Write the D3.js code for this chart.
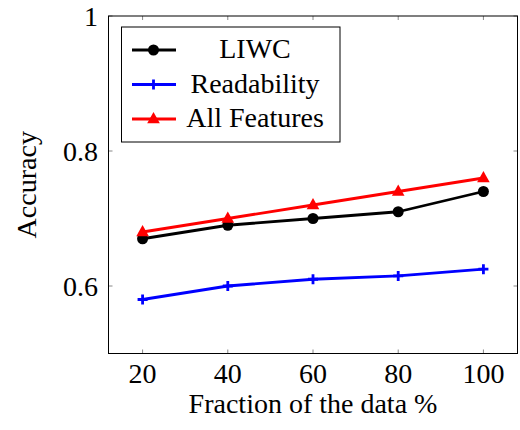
<!DOCTYPE html>
<html lang="en">
<head>
  <meta charset="UTF-8">
  <script src="https://d3js.org/d3.v7.min.js"></script>
  <style>
    body { margin: 0; background: #fff; }
  </style>
</head>
<body>
  <script>
    const W = 520, H = 430;

    // data
    var fractions = [20, 40, 60, 80, 100];
    var liwc = [0.67, 0.69, 0.70, 0.71, 0.74];
    var readability = [0.58, 0.60, 0.61, 0.615, 0.625];
    var allFeatures = [0.68, 0.70, 0.72, 0.74, 0.76];
    var xTicks = [20, 40, 60, 80, 100];
    var yTicks = [0.6, 0.8, 1];

    var series = [
      { name: "LIWC", values: liwc, color: "#000", marker: "circle" },
      { name: "Readability", values: readability, color: "#0000ff", marker: "plus" },
      { name: "All Features", values: allFeatures, color: "#ff0000", marker: "triangle" }
    ];

    const pLeft = 108.5, pRight = 517.5, pTop = 16, pBottom = 353.5;
    const fs = 28;

    var x = d3.scaleLinear().domain([12, 108]).range([pLeft, pRight]);
    var y = d3.scaleLinear().domain([0.5, 1]).range([pBottom, pTop]);

    var svg = d3.select("body").append("svg")
      .attr("width", W)
      .attr("height", H)
      .attr("font-family", "'Liberation Serif', 'Times New Roman', Times, 'DejaVu Serif', serif");

    // ticks (inside, on all four sides)
    var tickLen = 4;
    var gt = svg.append("g").attr("stroke", "#888").attr("stroke-width", 1);
    xTicks.forEach(function (t) {
      gt.append("line").attr("x1", x(t)).attr("x2", x(t)).attr("y1", pBottom).attr("y2", pBottom - tickLen);
      gt.append("line").attr("x1", x(t)).attr("x2", x(t)).attr("y1", pTop).attr("y2", pTop + tickLen);
    });
    yTicks.forEach(function (t) {
      gt.append("line").attr("y1", y(t)).attr("y2", y(t)).attr("x1", pLeft).attr("x2", pLeft + tickLen);
      gt.append("line").attr("y1", y(t)).attr("y2", y(t)).attr("x1", pRight).attr("x2", pRight - tickLen);
    });

    // frame
    svg.append("rect")
      .attr("x", pLeft).attr("y", pTop)
      .attr("width", pRight - pLeft).attr("height", pBottom - pTop)
      .attr("fill", "none").attr("stroke", "#000").attr("stroke-width", 1);

    // tick labels
    svg.selectAll(".xl").data(xTicks).enter().append("text")
      .attr("x", function (d) { return x(d); })
      .attr("y", 383)
      .attr("text-anchor", "middle")
      .attr("font-size", fs)
      .text(function (d) { return d; });

    svg.selectAll(".yl").data(yTicks).enter().append("text")
      .attr("x", 98)
      .attr("y", function (d) { return y(d) + 10; })
      .attr("text-anchor", "end")
      .attr("font-size", fs)
      .text(function (d) { return d; });

    // axis titles
    svg.append("text")
      .attr("x", (pLeft + pRight) / 2).attr("y", 413)
      .attr("text-anchor", "middle")
      .attr("font-size", fs)
      .text("Fraction of the data %");

    svg.append("text")
      .attr("transform", "translate(36," + ((pTop + pBottom) / 2) + ") rotate(-90)")
      .attr("text-anchor", "middle")
      .attr("font-size", fs)
      .text("Accuracy");

    function drawMarker(g, type, cx, cy, color) {
      if (type == "circle") {
        g.append("circle").attr("cx", cx).attr("cy", cy).attr("r", 5.5).attr("fill", color);
      } else if (type == "plus") {
        g.append("path")
          .attr("d", "M" + (cx - 5) + "," + cy + "H" + (cx + 5) + "M" + cx + "," + (cy - 5) + "V" + (cy + 5))
          .attr("stroke", color).attr("stroke-width", 2.8).attr("fill", "none");
      } else {
        var s = 7;
        g.append("path")
          .attr("d", "M" + cx + "," + (cy - s) + "L" + (cx + s * 0.9) + "," + (cy + s * 0.6) + "L" + (cx - s * 0.9) + "," + (cy + s * 0.6) + "Z")
          .attr("fill", color);
      }
    }

    var line = d3.line()
      .x(function (d, i) { return x(fractions[i]); })
      .y(function (d) { return y(d); });

    series.forEach(function (s) {
      var g = svg.append("g");
      g.append("path")
        .attr("d", line(s.values))
        .attr("fill", "none")
        .attr("stroke", s.color)
        .attr("stroke-width", 2.8)
        .attr("stroke-linejoin", "round");
      s.values.forEach(function (v, i) {
        drawMarker(g, s.marker, x(fractions[i]), y(v), s.color);
      });
    });

    // legend
    var lg = svg.append("g");
    lg.append("rect")
      .attr("x", 121.5).attr("y", 27)
      .attr("width", 218.5).attr("height", 115)
      .attr("fill", "#fff").attr("stroke", "#000").attr("stroke-width", 1);
    series.forEach(function (s, i) {
      var ly = 50 + i * 34.5;
      lg.append("line")
        .attr("x1", 132).attr("x2", 176).attr("y1", ly).attr("y2", ly)
        .attr("stroke", s.color).attr("stroke-width", 2.8);
      drawMarker(lg, s.marker, 153.5, ly, s.color);
      lg.append("text")
        .attr("x", 255).attr("y", ly + 8)
        .attr("text-anchor", "middle")
        .attr("font-size", fs)
        .text(s.name);
    });
  </script>
</body>
</html>
